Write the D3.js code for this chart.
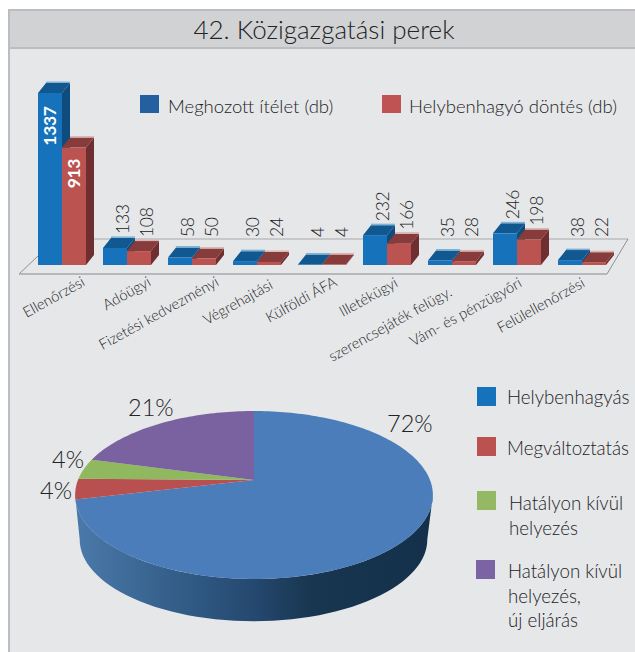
<!DOCTYPE html>
<html><head><meta charset="utf-8">
<script src="https://cdnjs.cloudflare.com/ajax/libs/d3/7.8.5/d3.min.js"></script>
<style>html,body{margin:0;padding:0;background:#fff}svg{display:block}text{font-family:Lato,"Open Sans",sans-serif;fill:#232325;font-weight:300}</style>
</head><body><script>
const titleText = "42. Közigazgatási perek";
const categories = ["Ellenőrzési","Adóügyi","Fizetési kedvezményi","Végrehajtási","Külföldi ÁFA","Illetékügyi","szerencsejáték felügy.","Vám- és pénzügyőri","Felülellenőrzési"];
const meghozott = [1337,133,58,30,4,232,35,246,38];
const helybenhagyo = [913,108,50,24,4,166,28,198,22];
const barSeriesNames = ["Meghozott ítélet (db)","Helybenhagyó döntés (db)"];
const pieLabels = [["Helybenhagyás"],["Megváltoztatás"],["Hatályon kívül","helyezés"],["Hatályon kívül","helyezés,","új eljárás"]];
const pieValues = [72,4,4,21];

const W=635,H=652;
const svg=d3.select("body").append("svg").attr("width",W).attr("height",H);
// panel
svg.append("rect").attr("x",9).attr("y",10).attr("width",W).attr("height",H).attr("fill","#e6e7e9").attr("stroke","#bcbdc0").attr("stroke-width",2);
svg.append("rect").attr("x",10).attr("y",11).attr("width",W).attr("height",37).attr("fill","#d1d2d4");
svg.append("line").attr("x1",10).attr("x2",W).attr("y1",48).attr("y2",48).attr("stroke","#bcbdc0").attr("stroke-width",2);
svg.append("text").attr("x",324).attr("y",39).attr("text-anchor","middle").attr("font-size",26).text(titleText);

// bar chart
const base=265, depthX=8, depthY=10;
const x0=d3.scaleBand().domain(categories).range([38,38+65*9]).paddingInner(0).paddingOuter(0);
const y=d3.scaleLinear().domain([0,1337]).range([base,93]);
const barW=24;
const palette=[
 {front:"#1572bb",top:"#10588f",side:"#0e4c7e",strip:"#7db3d6"},
 {front:"#bb5350",top:"#883b3b",side:"#6f2e30",strip:"#dcb4b4"}];

// floor
const floor=svg.append("g");
floor.append("path").attr("d",d3.line()([[56,239],[628,239]])).attr("fill","none").attr("stroke","#a7a9ac").attr("stroke-width",1.2);
floor.append("path").attr("d",d3.line()([[628,239],[607,274]])).attr("fill","none").attr("stroke","#77787b").attr("stroke-width",.8);
floor.append("path").attr("d",d3.line()([[19,274],[56,239]])).attr("fill","none").attr("stroke","#77787b").attr("stroke-width",.8);
floor.append("path").attr("d",d3.line()([[19,274],[607,274]])).attr("fill","none").attr("stroke","#a7a9ac").attr("stroke-width",1.6);

const seriesData=[meghozott,helybenhagyo];
const labelEnd=[[86,285],[152,285],[220,285],[274,288],[338,285],[399,286],[453,295],[523,286],[586,286]];
categories.forEach((c,i)=>{
  const g=svg.append("g");
  seriesData.forEach((vals,s)=>{
    const v=vals[i],px=x0(c)+s*barW,py=y(v),col=palette[s];
    g.append("path").attr("d",d3.line()([[px+barW,py],[px+barW+depthX,py-depthY],[px+barW+depthX,base-depthY],[px+barW,base]])).attr("fill",col.side);
    g.append("path").attr("d",d3.line()([[px,py],[px+depthX,py-depthY],[px+barW+depthX,py-depthY],[px+barW,py]])).attr("fill",col.top);
    g.append("rect").attr("x",px+depthX).attr("y",py-depthY-1.5).attr("width",barW).attr("height",1.5).attr("fill",col.strip);
    g.append("rect").attr("x",px).attr("y",py).attr("width",barW).attr("height",base-py).attr("fill",col.front);
    const big=v>500;
    const lx=big?px+12:px+20;
    const ly=big?py+(s==0?33:26):Math.min(237,py-depthY-4);
    g.append("text").attr("transform",`translate(${lx},${ly}) rotate(-90)`).attr("dy","0.35em")
      .attr("text-anchor",big?"middle":"start").attr("font-size",17.5).attr("letter-spacing",-0.3)
      .style("font-weight",big?700:300).style("fill",big?"#fff":"#232325").text(v);
  });
  svg.append("text").attr("transform",`translate(${labelEnd[i][0]},${labelEnd[i][1]}) rotate(-29)`)
    .attr("text-anchor","end").attr("font-size",14.8).text(c);
});

// top legend
[[140,168],[382,409]].forEach((p,i)=>{
  svg.append("rect").attr("x",p[0]).attr("y",95).attr("width",19).attr("height",18).attr("fill",i?"#bf5252":"#24609f");
  svg.append("text").attr("x",p[1]).attr("y",113).attr("font-size",18.5).text(barSeriesNames[i]);
});

// pie with perspective projection of a circular disc
const k=0.1786;
function proj(a,cx,cy,rx,ry){const u=Math.sin(a),v=-Math.cos(a),w=1-k*v;return [cx+rx*u/w,cy+ry*v/w];}
const topP=a=>proj(a,254,480,176,81.3), lowP=a=>proj(a,253.5,525,171,79);
const arcs=d3.pie().sort(null)(pieValues);
const pieCols=["#4a7dba","#b8504f","#8fb85f","#7a62a0"];
const side=d3.range(0,61).map(i=>259.7-(259.7-100.3)*i/60).map(d=>d*Math.PI/180);
const defs=svg.append("defs");
const grad=defs.append("linearGradient").attr("id","sideG").attr("gradientUnits","userSpaceOnUse").attr("x1",80).attr("x2",430).attr("y1",0).attr("y2",0);
[[0,"#4a78a8"],[.15,"#3d6a97"],[.35,"#2e5680"],[.5,"#25486f"],[.66,"#183650"],[1,"#14304a"]].forEach(s=>grad.append("stop").attr("offset",s[0]).attr("stop-color",s[1]));
svg.append("path").attr("d",d3.line()(side.map(topP).concat(side.slice().reverse().map(lowP)))+"Z").attr("fill","url(#sideG)");
arcs.forEach((a,i)=>{
  const n=Math.max(2,Math.ceil((a.endAngle-a.startAngle)*40));
  const pts=d3.range(n+1).map(j=>topP(a.startAngle+(a.endAngle-a.startAngle)*j/n));
  svg.append("path").attr("d",d3.line()([[254,480],...pts])+"Z").attr("fill",pieCols[i]);
});
const pctPos=[[387,432],[40,499],[52,468],[128,416]];
pieValues.forEach((v,i)=>svg.append("text").attr("x",pctPos[i][0]).attr("y",pctPos[i][1]).attr("font-size",23.5).text(v+"%"));

// right legend
const legCols=["#1572bb","#bc5250","#94b864","#7c63a3"];
const legRows=[{sx:477,sy:387,tx:507,by:404},{sx:477,sy:437,tx:507,by:455},{sx:477,sy:491,tx:509,by:510},{sx:476,sy:560,tx:508,by:578}];
pieLabels.forEach((lines,i)=>{
  const r=legRows[i];
  svg.append("rect").attr("x",r.sx).attr("y",r.sy).attr("width",19).attr("height",19).attr("fill",legCols[i]);
  lines.forEach((t,j)=>svg.append("text").attr("x",r.tx).attr("y",r.by+j*24.7).attr("font-size",18.7).text(t));
});
</script></body></html>
